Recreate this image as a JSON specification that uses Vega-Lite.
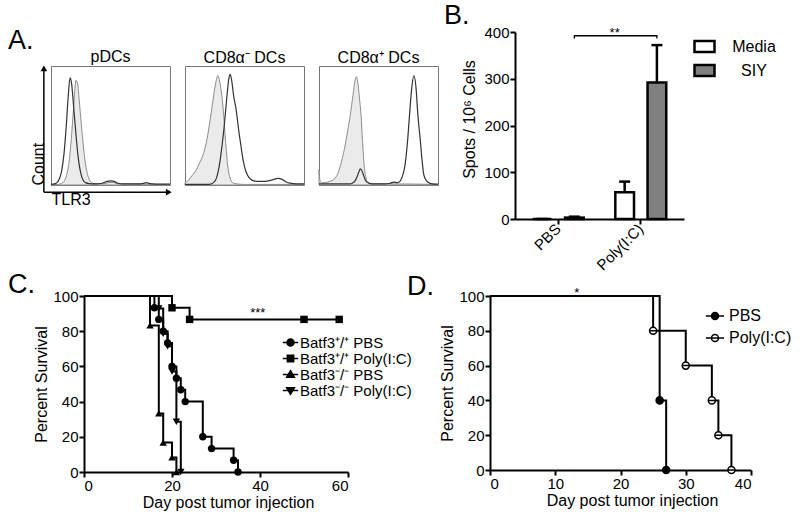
{
  "$schema": "https://vega.github.io/schema/vega-lite/v6.json",
  "padding": {"left": 7, "top": 1, "right": 2, "bottom": 2},
  "config": {
    "font": "Liberation Sans",
    "view": {"stroke": null},
    "axis": {"grid": false, "domainColor": "black", "domainWidth": 2, "tickColor": "black", "tickWidth": 2, "tickSize": 5, "labelFontSize": 15, "labelColor": "black", "labelPadding": 1, "labelOverlap": false, "titleFontSize": 16, "titleFontWeight": "normal", "titleColor": "black"},
    "axisY": {"labelOverlap": false},
    "axisQuantitative": {"labelOverlap": false},
    "title": {"fontSize": 16, "fontWeight": "normal", "color": "black", "font": "Liberation Sans"},
    "legend": {"padding": 0, "labelColor": "black", "labelFont": "Liberation Sans"}
  },
  "datasets": {
    "hist": [
      {"p":"a1","c":"o","x":0,"y":0.5},{"p":"a1","c":"o","x":3,"y":1},{"p":"a1","c":"o","x":5,"y":2},{"p":"a1","c":"o","x":7,"y":5},{"p":"a1","c":"o","x":9,"y":12},{"p":"a1","c":"o","x":11,"y":27},{"p":"a1","c":"o","x":13,"y":52},{"p":"a1","c":"o","x":14.5,"y":75},{"p":"a1","c":"o","x":16,"y":90},{"p":"a1","c":"o","x":17.2,"y":86},{"p":"a1","c":"o","x":19,"y":66},{"p":"a1","c":"o","x":21,"y":42},{"p":"a1","c":"o","x":23,"y":22},{"p":"a1","c":"o","x":25,"y":10},{"p":"a1","c":"o","x":27,"y":4},{"p":"a1","c":"o","x":29,"y":2},{"p":"a1","c":"o","x":32,"y":1.2},{"p":"a1","c":"o","x":38,"y":1},{"p":"a1","c":"o","x":43,"y":1.5},{"p":"a1","c":"o","x":47,"y":3},{"p":"a1","c":"o","x":50,"y":3.5},{"p":"a1","c":"o","x":53,"y":3},{"p":"a1","c":"o","x":56,"y":1.5},{"p":"a1","c":"o","x":60,"y":1},{"p":"a1","c":"o","x":72,"y":1},{"p":"a1","c":"o","x":77,"y":1.2},{"p":"a1","c":"o","x":80,"y":2},{"p":"a1","c":"o","x":83,"y":1.2},{"p":"a1","c":"o","x":88,"y":0.8},{"p":"a1","c":"o","x":100,"y":0.8},
      {"p":"a1","c":"f","x":0,"y":0.3},{"p":"a1","c":"f","x":6,"y":0.5},{"p":"a1","c":"f","x":9,"y":1.5},{"p":"a1","c":"f","x":11,"y":3},{"p":"a1","c":"f","x":13,"y":8},{"p":"a1","c":"f","x":15,"y":18},{"p":"a1","c":"f","x":17,"y":38},{"p":"a1","c":"f","x":19,"y":65},{"p":"a1","c":"f","x":21,"y":88},{"p":"a1","c":"f","x":22.2,"y":86},{"p":"a1","c":"f","x":24,"y":68},{"p":"a1","c":"f","x":26,"y":45},{"p":"a1","c":"f","x":28,"y":25},{"p":"a1","c":"f","x":30,"y":12},{"p":"a1","c":"f","x":32,"y":5},{"p":"a1","c":"f","x":34,"y":2},{"p":"a1","c":"f","x":37,"y":1},{"p":"a1","c":"f","x":44,"y":1},{"p":"a1","c":"f","x":48,"y":2},{"p":"a1","c":"f","x":52,"y":2.3},{"p":"a1","c":"f","x":56,"y":1},{"p":"a1","c":"f","x":100,"y":0.5},
      {"p":"a2","c":"f","x":0,"y":2},{"p":"a2","c":"f","x":3,"y":4},{"p":"a2","c":"f","x":6,"y":8},{"p":"a2","c":"f","x":9,"y":12},{"p":"a2","c":"f","x":12,"y":18},{"p":"a2","c":"f","x":15,"y":25},{"p":"a2","c":"f","x":18,"y":36},{"p":"a2","c":"f","x":20.4,"y":50},{"p":"a2","c":"f","x":22.5,"y":64},{"p":"a2","c":"f","x":24.5,"y":78},{"p":"a2","c":"f","x":26.5,"y":89},{"p":"a2","c":"f","x":27.5,"y":92},{"p":"a2","c":"f","x":28.5,"y":90},{"p":"a2","c":"f","x":30,"y":82},{"p":"a2","c":"f","x":31.5,"y":70},{"p":"a2","c":"f","x":32.5,"y":59},{"p":"a2","c":"f","x":34,"y":38},{"p":"a2","c":"f","x":35.9,"y":16},{"p":"a2","c":"f","x":37.5,"y":7},{"p":"a2","c":"f","x":40,"y":2},{"p":"a2","c":"f","x":43,"y":1},{"p":"a2","c":"f","x":50,"y":0.5},{"p":"a2","c":"f","x":100,"y":0.5},
      {"p":"a2","c":"o","x":0,"y":0.5},{"p":"a2","c":"o","x":20,"y":0.5},{"p":"a2","c":"o","x":24,"y":2},{"p":"a2","c":"o","x":26.5,"y":6},{"p":"a2","c":"o","x":28.8,"y":16},{"p":"a2","c":"o","x":31,"y":32},{"p":"a2","c":"o","x":33,"y":50},{"p":"a2","c":"o","x":35,"y":72},{"p":"a2","c":"o","x":36.8,"y":89},{"p":"a2","c":"o","x":38,"y":93},{"p":"a2","c":"o","x":39.2,"y":88},{"p":"a2","c":"o","x":41,"y":74},{"p":"a2","c":"o","x":42.9,"y":64},{"p":"a2","c":"o","x":45,"y":47},{"p":"a2","c":"o","x":47,"y":33},{"p":"a2","c":"o","x":49,"y":20},{"p":"a2","c":"o","x":51,"y":12},{"p":"a2","c":"o","x":52.7,"y":8},{"p":"a2","c":"o","x":55,"y":5},{"p":"a2","c":"o","x":58,"y":3.5},{"p":"a2","c":"o","x":62,"y":3},{"p":"a2","c":"o","x":66,"y":3},{"p":"a2","c":"o","x":70,"y":3.5},{"p":"a2","c":"o","x":74,"y":4.5},{"p":"a2","c":"o","x":78,"y":5.5},{"p":"a2","c":"o","x":82,"y":4.5},{"p":"a2","c":"o","x":85,"y":2.5},{"p":"a2","c":"o","x":88,"y":1.5},{"p":"a2","c":"o","x":94,"y":1},{"p":"a2","c":"o","x":100,"y":1},
      {"p":"a3","c":"f","x":0,"y":13},{"p":"a3","c":"f","x":0.8,"y":4},{"p":"a3","c":"f","x":2,"y":2},{"p":"a3","c":"f","x":5,"y":2},{"p":"a3","c":"f","x":9,"y":3},{"p":"a3","c":"f","x":12.9,"y":5},{"p":"a3","c":"f","x":16,"y":10},{"p":"a3","c":"f","x":19,"y":20},{"p":"a3","c":"f","x":21.3,"y":30},{"p":"a3","c":"f","x":24,"y":45},{"p":"a3","c":"f","x":26.3,"y":59},{"p":"a3","c":"f","x":28.5,"y":75},{"p":"a3","c":"f","x":30.3,"y":88},{"p":"a3","c":"f","x":31.4,"y":91},{"p":"a3","c":"f","x":32.5,"y":87},{"p":"a3","c":"f","x":34,"y":73},{"p":"a3","c":"f","x":35.3,"y":59},{"p":"a3","c":"f","x":36.5,"y":38},{"p":"a3","c":"f","x":38,"y":16},{"p":"a3","c":"f","x":39.5,"y":6},{"p":"a3","c":"f","x":40.9,"y":2},{"p":"a3","c":"f","x":44,"y":1},{"p":"a3","c":"f","x":48,"y":1},{"p":"a3","c":"f","x":100,"y":0.5},
      {"p":"a3","c":"o","x":0,"y":1},{"p":"a3","c":"o","x":26,"y":1},{"p":"a3","c":"o","x":28,"y":1.5},{"p":"a3","c":"o","x":30,"y":3},{"p":"a3","c":"o","x":32,"y":7},{"p":"a3","c":"o","x":33.5,"y":11},{"p":"a3","c":"o","x":34.7,"y":13.5},{"p":"a3","c":"o","x":36,"y":12},{"p":"a3","c":"o","x":37.5,"y":8},{"p":"a3","c":"o","x":39,"y":4},{"p":"a3","c":"o","x":41,"y":2},{"p":"a3","c":"o","x":44,"y":1},{"p":"a3","c":"o","x":55,"y":1},{"p":"a3","c":"o","x":60,"y":1.5},{"p":"a3","c":"o","x":63,"y":2.5},{"p":"a3","c":"o","x":66,"y":2},{"p":"a3","c":"o","x":68,"y":3},{"p":"a3","c":"o","x":70,"y":7},{"p":"a3","c":"o","x":72,"y":15},{"p":"a3","c":"o","x":74.6,"y":39},{"p":"a3","c":"o","x":76,"y":58},{"p":"a3","c":"o","x":78,"y":82},{"p":"a3","c":"o","x":79.7,"y":92},{"p":"a3","c":"o","x":81.5,"y":82},{"p":"a3","c":"o","x":83,"y":60},{"p":"a3","c":"o","x":85,"y":39},{"p":"a3","c":"o","x":86.5,"y":22},{"p":"a3","c":"o","x":88,"y":9},{"p":"a3","c":"o","x":90,"y":4},{"p":"a3","c":"o","x":92,"y":2},{"p":"a3","c":"o","x":95,"y":1},{"p":"a3","c":"o","x":100,"y":0.8}
    ],
    "bars": [
      {"grp":"PBS","trt":"Media","v":0,"hi":0},
      {"grp":"PBS","trt":"SIY","v":3,"hi":5},
      {"grp":"Poly(I:C)","trt":"Media","v":57,"hi":80},
      {"grp":"Poly(I:C)","trt":"SIY","v":292,"hi":372}
    ],
    "bracket": [
      {"grp":"PBS","trt":"SIY","y":386,"o":1},
      {"grp":"PBS","trt":"SIY","y":392,"o":2},
      {"grp":"Poly(I:C)","trt":"SIY","y":392,"o":3},
      {"grp":"Poly(I:C)","trt":"SIY","y":386,"o":4}
    ],
    "survC": [
      {"g":"Batf3⁺/⁺ PBS","day":0,"pct":100},{"g":"Batf3⁺/⁺ PBS","day":16,"pct":93.3},{"g":"Batf3⁺/⁺ PBS","day":17,"pct":86.7},{"g":"Batf3⁺/⁺ PBS","day":18,"pct":80},{"g":"Batf3⁺/⁺ PBS","day":19,"pct":73.3},{"g":"Batf3⁺/⁺ PBS","day":20,"pct":60},{"g":"Batf3⁺/⁺ PBS","day":21,"pct":53.3},{"g":"Batf3⁺/⁺ PBS","day":22,"pct":46.7},{"g":"Batf3⁺/⁺ PBS","day":23,"pct":40},{"g":"Batf3⁺/⁺ PBS","day":27,"pct":20},{"g":"Batf3⁺/⁺ PBS","day":29,"pct":13.3},{"g":"Batf3⁺/⁺ PBS","day":34,"pct":6.7},{"g":"Batf3⁺/⁺ PBS","day":35,"pct":0},
      {"g":"Batf3⁺/⁺ Poly(I:C)","day":0,"pct":100},{"g":"Batf3⁺/⁺ Poly(I:C)","day":20,"pct":93.3},{"g":"Batf3⁺/⁺ Poly(I:C)","day":24,"pct":86.7},{"g":"Batf3⁺/⁺ Poly(I:C)","day":50,"pct":86.7},{"g":"Batf3⁺/⁺ Poly(I:C)","day":58,"pct":86.7},
      {"g":"Batf3⁻/⁻ PBS","day":0,"pct":100},{"g":"Batf3⁻/⁻ PBS","day":15,"pct":83.3},{"g":"Batf3⁻/⁻ PBS","day":17,"pct":33.3},{"g":"Batf3⁻/⁻ PBS","day":18,"pct":16.7},{"g":"Batf3⁻/⁻ PBS","day":20,"pct":8.3},{"g":"Batf3⁻/⁻ PBS","day":21,"pct":0},
      {"g":"Batf3⁻/⁻ Poly(I:C)","day":0,"pct":100},{"g":"Batf3⁻/⁻ Poly(I:C)","day":17,"pct":92.9},{"g":"Batf3⁻/⁻ Poly(I:C)","day":18,"pct":78.6},{"g":"Batf3⁻/⁻ Poly(I:C)","day":19,"pct":71.4},{"g":"Batf3⁻/⁻ Poly(I:C)","day":20,"pct":57.1},{"g":"Batf3⁻/⁻ Poly(I:C)","day":21,"pct":28.6},{"g":"Batf3⁻/⁻ Poly(I:C)","day":22,"pct":0}
    ],
    "survD": [
      {"g":"PBS","day":0,"pct":100},{"g":"PBS","day":26,"pct":40},{"g":"PBS","day":27,"pct":0},
      {"g":"Poly(I:C)","day":0,"pct":100},{"g":"Poly(I:C)","day":25,"pct":80},{"g":"Poly(I:C)","day":30,"pct":60},{"g":"Poly(I:C)","day":34,"pct":40},{"g":"Poly(I:C)","day":35,"pct":20},{"g":"Poly(I:C)","day":37,"pct":0}
    ]
  },
  "resolve": {"scale": {"fill": "independent", "shape": "independent"}, "legend": {"fill": "independent", "shape": "independent"}},
  "vconcat": [
    {
      "resolve": {"scale": {"fill": "independent", "shape": "independent"}, "legend": {"fill": "independent", "shape": "independent"}},
      "hconcat": [
        {
          "width": 119, "height": 119,
          "view": {"stroke": "#777", "strokeWidth": 1},
          "title": {"text": "A.", "anchor": "start", "frame": "group", "fontSize": 27, "baseline": "alphabetic", "dx": -43, "dy": 27, "offset": 0},
          "layer": [
            {"data": {"name": "hist"}, "transform": [{"filter": "datum.p === 'a1' && datum.c === 'f'"}],
             "mark": {"type": "area", "interpolate": "monotone", "fill": "#ebebeb", "stroke": "#8c8c8c", "strokeWidth": 1},
             "encoding": {
               "x": {"field": "x", "type": "quantitative", "scale": {"domain": [0, 100], "nice": false, "zero": false}, "axis": {"title": "TLR3", "titleAnchor": "start", "domain": false, "ticks": false, "labels": false, "titlePadding": 6}},
               "y": {"field": "y", "type": "quantitative", "scale": {"domain": [0, 100], "nice": false}, "axis": {"title": "Count", "titleAnchor": "start", "domain": false, "ticks": false, "labels": false, "titlePadding": 5}}
             }},
            {"data": {"name": "hist"}, "transform": [{"filter": "datum.p === 'a1' && datum.c === 'o'"}],
             "mark": {"type": "line", "interpolate": "monotone", "color": "#333", "strokeWidth": 1.2},
             "encoding": {"x": {"field": "x", "type": "quantitative"}, "y": {"field": "y", "type": "quantitative"}}},
            {"data": {"values": [{}]}, "mark": {"type": "rule", "color": "black", "strokeWidth": 1.5}, "encoding": {"x": {"datum": -6}, "y": {"datum": -6}, "y2": {"datum": 97}}},
            {"data": {"values": [{}]}, "mark": {"type": "rule", "color": "black", "strokeWidth": 1.5}, "encoding": {"x": {"datum": -6}, "x2": {"datum": 97}, "y": {"datum": -6}}},
            {"data": {"values": [{}]}, "mark": {"type": "point", "shape": "triangle-up", "filled": true, "color": "black", "size": 45, "opacity": 1}, "encoding": {"x": {"datum": -6}, "y": {"datum": 98}}},
            {"data": {"values": [{}]}, "mark": {"type": "point", "shape": "triangle-right", "filled": true, "color": "black", "size": 45, "opacity": 1}, "encoding": {"x": {"datum": 99}, "y": {"datum": -6}}},
            {"data": {"values": [{}]}, "mark": {"type": "text", "text": "pDCs", "fontSize": 16, "align": "center", "baseline": "alphabetic", "color": "black"}, "encoding": {"x": {"datum": 50}, "y": {"datum": 103.4}}}
          ]
        },
        {
          "width": 119, "height": 119,
          "view": {"stroke": "#777", "strokeWidth": 1},
          "title": {"text": "CD8α⁻ DCs", "offset": 0},
          "data": {"name": "hist"},
          "layer": [
            {"transform": [{"filter": "datum.p === 'a2' && datum.c === 'f'"}],
             "mark": {"type": "area", "interpolate": "monotone", "fill": "#ebebeb", "stroke": "#8c8c8c", "strokeWidth": 1},
             "encoding": {
               "x": {"field": "x", "type": "quantitative", "scale": {"domain": [0, 100], "nice": false, "zero": false}, "axis": null},
               "y": {"field": "y", "type": "quantitative", "scale": {"domain": [0, 100], "nice": false}, "axis": null}
             }},
            {"transform": [{"filter": "datum.p === 'a2' && datum.c === 'o'"}],
             "mark": {"type": "line", "interpolate": "monotone", "color": "#333", "strokeWidth": 1.2},
             "encoding": {"x": {"field": "x", "type": "quantitative"}, "y": {"field": "y", "type": "quantitative"}}}
          ]
        },
        {
          "width": 119, "height": 119,
          "view": {"stroke": "#777", "strokeWidth": 1},
          "title": {"text": "CD8α⁺ DCs", "offset": 0},
          "data": {"name": "hist"},
          "layer": [
            {"transform": [{"filter": "datum.p === 'a3' && datum.c === 'f'"}],
             "mark": {"type": "area", "interpolate": "monotone", "fill": "#ebebeb", "stroke": "#8c8c8c", "strokeWidth": 1},
             "encoding": {
               "x": {"field": "x", "type": "quantitative", "scale": {"domain": [0, 100], "nice": false, "zero": false}, "axis": null},
               "y": {"field": "y", "type": "quantitative", "scale": {"domain": [0, 100], "nice": false}, "axis": null}
             }},
            {"transform": [{"filter": "datum.p === 'a3' && datum.c === 'o'"}],
             "mark": {"type": "line", "interpolate": "monotone", "color": "#333", "strokeWidth": 1.2},
             "encoding": {"x": {"field": "x", "type": "quantitative"}, "y": {"field": "y", "type": "quantitative"}}}
          ]
        },
        {
          "width": 47, "height": 1,
          "data": {"values": [{}]},
          "mark": {"type": "point", "opacity": 0}
        },
        {
          "width": 169, "height": 187,
          "title": {"text": "B.", "anchor": "start", "frame": "group", "fontSize": 27, "baseline": "alphabetic", "dx": -71, "dy": 25.5, "offset": 0},
          "layer": [
            {"data": {"name": "bars"},
             "mark": {"type": "bar", "stroke": "black", "strokeWidth": 2.5},
             "encoding": {
               "x": {"field": "grp", "type": "nominal", "sort": ["PBS", "Poly(I:C)"], "scale": {"paddingInner": 0.383, "paddingOuter": 0.215}, "axis": {"title": null, "labelAngle": -45, "labelAlign": "right", "labelBaseline": "middle", "labelPadding": 2}},
               "xOffset": {"field": "trt", "type": "nominal", "sort": ["Media", "SIY"], "scale": {"paddingInner": 0.42, "paddingOuter": 0}},
               "y": {"field": "v", "type": "quantitative", "scale": {"domain": [0, 400], "nice": false}, "axis": {"values": [0, 100, 200, 300, 400], "title": "Spots / 10⁶ Cells", "titlePadding": 6, "titleY": 87, "labelOverlap": false}},
               "fill": {"field": "trt", "type": "nominal", "sort": ["Media", "SIY"], "scale": {"domain": ["Media", "SIY"], "range": ["white", "#808080"]},
                        "legend": {"title": null, "orient": "none", "legendX": 178, "legendY": 3, "symbolType": "M-1,-0.55H1V0.55H-1Z", "symbolSize": 400, "symbolStrokeColor": "black", "symbolStrokeWidth": 2.5, "symbolOpacity": 1, "labelFontSize": 16, "labelAlign": "center", "labelOffset": 38, "rowPadding": 2}}
             }},
            {"data": {"name": "bars"},
             "mark": {"type": "rule", "color": "black", "strokeWidth": 2.5},
             "encoding": {
               "x": {"field": "grp", "type": "nominal", "sort": ["PBS", "Poly(I:C)"]},
               "xOffset": {"field": "trt", "type": "nominal", "sort": ["Media", "SIY"]},
               "y": {"field": "v", "type": "quantitative"},
               "y2": {"field": "hi"}
             }},
            {"data": {"name": "bars"},
             "mark": {"type": "tick", "color": "black", "thickness": 2.5, "size": 11, "opacity": 1},
             "encoding": {
               "x": {"field": "grp", "type": "nominal", "sort": ["PBS", "Poly(I:C)"]},
               "xOffset": {"field": "trt", "type": "nominal", "sort": ["Media", "SIY"]},
               "y": {"field": "hi", "type": "quantitative"}
             }},
            {"data": {"name": "bracket"},
             "mark": {"type": "line", "color": "black", "strokeWidth": 1.3},
             "encoding": {
               "x": {"field": "grp", "type": "nominal", "sort": ["PBS", "Poly(I:C)"]},
               "xOffset": {"field": "trt", "type": "nominal", "sort": ["Media", "SIY"]},
               "y": {"field": "y", "type": "quantitative"},
               "order": {"field": "o"}
             }},
            {"data": {"values": [{"grp": "Poly(I:C)", "trt": "Media", "y": 390}]},
             "mark": {"type": "text", "text": "**", "fontSize": 13, "dx": -10, "baseline": "alphabetic", "color": "black"},
             "encoding": {
               "x": {"field": "grp", "type": "nominal", "sort": ["PBS", "Poly(I:C)"]},
               "xOffset": {"field": "trt", "type": "nominal", "sort": ["Media", "SIY"]},
               "y": {"field": "y", "type": "quantitative"}
             }}
          ]
        }
      ],
      "spacing": 15,
      "bounds": "flush",
      "center": true
    },
    {
      "resolve": {"scale": {"fill": "independent", "shape": "independent"}, "legend": {"fill": "independent", "shape": "independent"}},
      "hconcat": [
        {
          "width": 18, "height": 1,
          "data": {"values": [{}]},
          "mark": {"type": "point", "opacity": 0}
        },
        {
          "width": 264, "height": 176,
          "title": {"text": "C.", "anchor": "start", "frame": "group", "fontSize": 27, "baseline": "alphabetic", "dx": -76, "dy": 30.5, "offset": 0},
          "resolve": {"scale": {"shape": "independent", "fill": "independent"}},
          "layer": [
            {"data": {"name": "survC"},
             "mark": {"type": "line", "interpolate": "step-after", "color": "black", "strokeWidth": 2},
             "encoding": {
               "x": {"field": "day", "type": "quantitative", "scale": {"domain": [0, 60], "nice": false}, "axis": {"values": [0, 20, 40, 60], "title": "Day post tumor injection", "titlePadding": 1, "titleX": 144, "labelOverlap": false}},
               "y": {"field": "pct", "type": "quantitative", "scale": {"domain": [0, 100], "nice": false}, "axis": {"values": [0, 20, 40, 60, 80, 100], "title": "Percent Survival", "titlePadding": 3, "labelOverlap": false, "labelSeparation": 0}},
               "detail": {"field": "g"}
             }},
            {"data": {"name": "survC"},
             "transform": [{"filter": "datum.day > 0"}],
             "mark": {"type": "point", "filled": true, "color": "black", "size": 55, "opacity": 1},
             "encoding": {
               "x": {"field": "day", "type": "quantitative", "axis": {"values": [0, 20, 40, 60], "title": "Day post tumor injection", "titlePadding": 1, "titleX": 144, "labelOverlap": false}},
               "y": {"field": "pct", "type": "quantitative", "axis": {"values": [0, 20, 40, 60, 80, 100], "title": "Percent Survival", "titlePadding": 3, "labelOverlap": false, "labelSeparation": 0}},
               "shape": {"field": "g", "type": "nominal",
                         "scale": {"domain": ["Batf3⁺/⁺ PBS", "Batf3⁺/⁺ Poly(I:C)", "Batf3⁻/⁻ PBS", "Batf3⁻/⁻ Poly(I:C)"], "range": ["circle", "square", "triangle-up", "triangle-down"]},
                         "legend": null}
             }},
            {"data": {"name": "survC"},
             "transform": [{"filter": "datum.day < 0"}],
             "mark": {"type": "point", "filled": false, "color": "black", "strokeWidth": 1.5, "size": 49, "opacity": 1},
             "encoding": {
               "x": {"field": "day", "type": "quantitative", "axis": {"values": [0, 20, 40, 60], "title": "Day post tumor injection", "titlePadding": 1, "titleX": 144, "labelOverlap": false}},
               "y": {"field": "pct", "type": "quantitative", "axis": {"values": [0, 20, 40, 60, 80, 100], "title": "Percent Survival", "titlePadding": 3, "labelOverlap": false, "labelSeparation": 0}},
               "fill": {"field": "g", "type": "nominal",
                        "scale": {"domain": ["Batf3⁺/⁺ PBS", "Batf3⁺/⁺ Poly(I:C)", "Batf3⁻/⁻ PBS", "Batf3⁻/⁻ Poly(I:C)"], "range": ["black", "black", "black", "black"]},
                        "legend": {"title": null, "orient": "none", "legendX": 199, "legendY": 39, "labelFontSize": 15, "symbolSize": 49, "labelOffset": 2, "rowPadding": -2.3, "symbolStrokeColor": "black", "symbolStrokeWidth": 1.5, "symbolOpacity": 1,
                                   "encode": {"symbols": {"update": {"stroke": {"value": "black"}, "strokeWidth": {"value": 1.5}}}}}},
               "shape": {"field": "g", "type": "nominal",
                         "scale": {"domain": ["Batf3⁺/⁺ PBS", "Batf3⁺/⁺ Poly(I:C)", "Batf3⁻/⁻ PBS", "Batf3⁻/⁻ Poly(I:C)"],
                                   "range": ["M-2.2,0H2.2M-1,0A1,1,0,1,1,1,0A1,1,0,1,1,-1,0Z", "M-2.2,0H2.2M-0.9,-0.9H0.9V0.9H-0.9Z", "M-2.2,0H2.2M0,-1.1L1.1,0.8H-1.1Z", "M-2.2,0H2.2M0,1.1L1.1,-0.8H-1.1Z"]},
                         "legend": {"title": null, "orient": "none", "legendX": 199, "legendY": 39, "labelFontSize": 15, "symbolSize": 49, "labelOffset": 2, "rowPadding": -2.3, "symbolStrokeColor": "black", "symbolStrokeWidth": 1.5, "symbolOpacity": 1,
                                    "encode": {"symbols": {"update": {"stroke": {"value": "black"}, "strokeWidth": {"value": 1.5}}}}}}
             }},
            {"data": {"values": [{}]},
             "mark": {"type": "text", "text": "***", "fontSize": 13, "align": "center", "baseline": "alphabetic", "color": "black"},
             "encoding": {"x": {"datum": 39.5, "axis": {"values": [0, 20, 40, 60], "title": "Day post tumor injection", "titlePadding": 1, "titleX": 144, "labelOverlap": false}},
                          "y": {"datum": 88, "axis": {"values": [0, 20, 40, 60, 80, 100], "title": "Percent Survival", "titlePadding": 3, "labelOverlap": false, "labelSeparation": 0}}}}
          ]
        },
        {
          "width": 112, "height": 1,
          "data": {"values": [{}]},
          "mark": {"type": "point", "opacity": 0}
        },
        {
          "width": 261, "height": 174,
          "title": {"text": "D.", "anchor": "start", "frame": "group", "fontSize": 27, "baseline": "alphabetic", "dx": -83, "dy": 34.5, "offset": 0},
          "resolve": {"scale": {"shape": "independent", "fill": "independent"}},
          "layer": [
            {"data": {"name": "survD"},
             "mark": {"type": "line", "interpolate": "step-after", "color": "black", "strokeWidth": 2},
             "encoding": {
               "x": {"field": "day", "type": "quantitative", "scale": {"domain": [0, 40], "nice": false}, "axis": {"values": [0, 10, 20, 30, 40], "title": "Day post tumor injection", "titlePadding": 1, "titleX": 142, "labelOverlap": false}},
               "y": {"field": "pct", "type": "quantitative", "scale": {"domain": [0, 100], "nice": false}, "axis": {"values": [0, 20, 40, 60, 80, 100], "title": "Percent Survival", "titlePadding": 3, "labelOverlap": false, "labelSeparation": 0}},
               "detail": {"field": "g"}
             }},
            {"data": {"name": "survD"},
             "transform": [{"filter": "datum.day > 0"}],
             "mark": {"type": "point", "filled": true, "stroke": "black", "strokeWidth": 1.5, "size": 50, "opacity": 1},
             "encoding": {
               "x": {"field": "day", "type": "quantitative", "axis": {"values": [0, 10, 20, 30, 40], "title": "Day post tumor injection", "titlePadding": 1, "titleX": 142, "labelOverlap": false}},
               "y": {"field": "pct", "type": "quantitative", "axis": {"values": [0, 20, 40, 60, 80, 100], "title": "Percent Survival", "titlePadding": 3, "labelOverlap": false, "labelSeparation": 0}},
               "fill": {"field": "g", "type": "nominal", "scale": {"domain": ["PBS", "Poly(I:C)"], "range": ["black", "white"]}, "legend": null},
               "shape": {"field": "g", "type": "nominal",
                         "scale": {"domain": ["PBS", "Poly(I:C)"], "range": ["circle", "M-1,0A1,1,0,1,1,1,0A1,1,0,1,1,-1,0ZM-1,0H1"]},
                         "legend": null}
             }},
            {"data": {"name": "survD"},
             "transform": [{"filter": "datum.day < 0"}],
             "mark": {"type": "point", "filled": false, "color": "black", "strokeWidth": 1.5, "size": 49, "opacity": 1},
             "encoding": {
               "x": {"field": "day", "type": "quantitative", "axis": {"values": [0, 10, 20, 30, 40], "title": "Day post tumor injection", "titlePadding": 1, "titleX": 142, "labelOverlap": false}},
               "y": {"field": "pct", "type": "quantitative", "axis": {"values": [0, 20, 40, 60, 80, 100], "title": "Percent Survival", "titlePadding": 3, "labelOverlap": false, "labelSeparation": 0}},
               "fill": {"field": "g", "type": "nominal", "scale": {"domain": ["PBS", "Poly(I:C)"], "range": ["black", "white"]},
                        "legend": {"title": null, "orient": "none", "legendX": 217, "legendY": 12, "labelFontSize": 16, "symbolSize": 49, "labelOffset": 6, "rowPadding": 6, "symbolStrokeColor": "black", "symbolStrokeWidth": 1.5, "symbolOpacity": 1,
                                   "encode": {"symbols": {"update": {"stroke": {"value": "black"}, "strokeWidth": {"value": 1.5}}}}}},
               "shape": {"field": "g", "type": "nominal",
                         "scale": {"domain": ["PBS", "Poly(I:C)"], "range": ["M-2.6,0H2.6M-1,0A1,1,0,1,1,1,0A1,1,0,1,1,-1,0Z", "M-2.6,0H2.6M-1,0A1,1,0,1,1,1,0A1,1,0,1,1,-1,0ZM-1,0H1"]},
                        "legend": {"title": null, "orient": "none", "legendX": 217, "legendY": 12, "labelFontSize": 16, "symbolSize": 49, "labelOffset": 6, "rowPadding": 6, "symbolStrokeColor": "black", "symbolStrokeWidth": 1.5, "symbolOpacity": 1,
                                   "encode": {"symbols": {"update": {"stroke": {"value": "black"}, "strokeWidth": {"value": 1.5}}}}}}
             }},
            {"data": {"values": [{}]},
             "mark": {"type": "text", "text": "*", "fontSize": 13, "align": "center", "baseline": "alphabetic", "color": "black"},
             "encoding": {"x": {"datum": 13.3, "axis": {"values": [0, 10, 20, 30, 40], "title": "Day post tumor injection", "titlePadding": 1, "titleX": 142, "labelOverlap": false}},
                          "y": {"datum": 99.3, "axis": {"values": [0, 20, 40, 60, 80, 100], "title": "Percent Survival", "titlePadding": 3, "labelOverlap": false, "labelSeparation": 0}}}}
          ]
        }
      ],
      "spacing": 15,
      "bounds": "flush"
    }
  ],
  "spacing": -3
}
